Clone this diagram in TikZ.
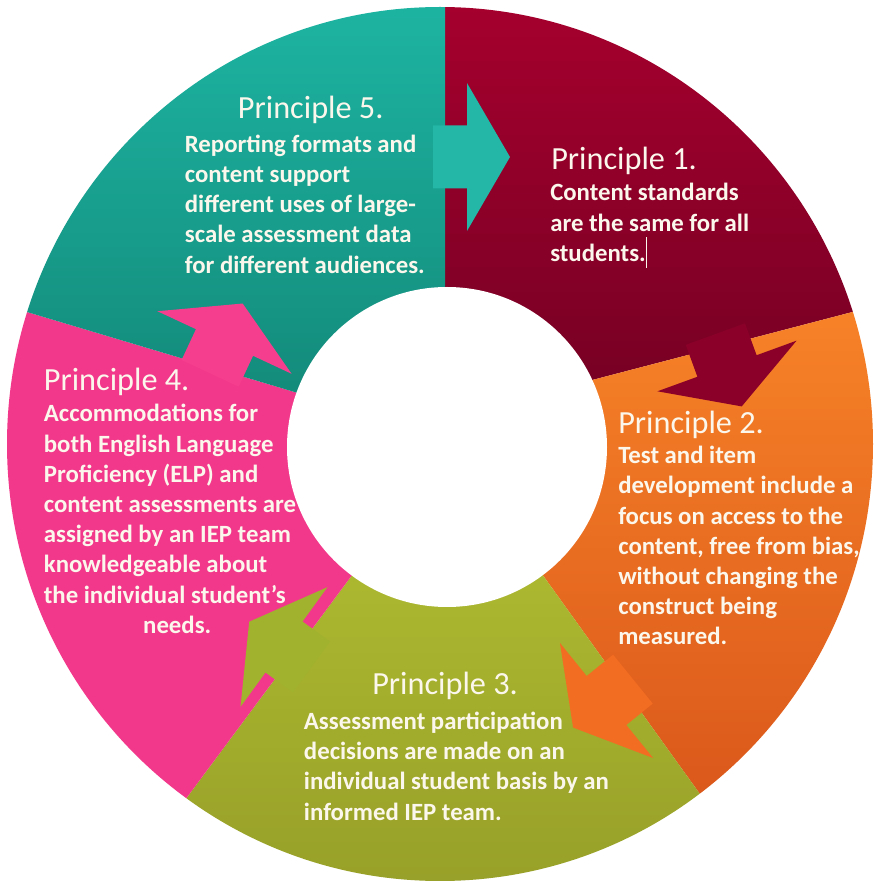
\documentclass[tikz,border=0pt]{standalone}
\usepackage{fontspec}
\setmainfont{Carlito}
\usetikzlibrary{positioning}
\definecolor{p1top}{RGB}{168,0,46}
\definecolor{p1bot}{RGB}{112,0,34}
\definecolor{p2top}{RGB}{248,132,40}
\definecolor{p2bot}{RGB}{212,78,24}
\definecolor{p3top}{RGB}{180,194,50}
\definecolor{p3bot}{RGB}{150,158,40}
\definecolor{p4col}{RGB}{242,56,138}
\definecolor{p5top}{RGB}{30,182,164}
\definecolor{p5bot}{RGB}{18,134,118}
\definecolor{a51col}{RGB}{36,182,166}
\definecolor{a12col}{RGB}{138,0,40}
\definecolor{a23col}{RGB}{242,108,34}
\definecolor{a34col}{RGB}{160,178,46}
\definecolor{a45col}{RGB}{246,62,142}
\definecolor{ptext}{RGB}{252,247,236}
\tikzset{
    ptitle/.style={anchor=base west, inner sep=0pt, text=ptext, font=\fontsize{24.2}{29}\selectfont},
    % base of a body node is the base of its last line
    pbody/.style={anchor=base west, inner sep=0pt, text=ptext, align=left, font=\fontsize{18.6}{22.65}\selectfont\bfseries},
    pics/flowarrow/.style={code={
        \fill[#1] (-34,-31.5) -- (0,-31.5) -- (0,-74) -- (43,0) -- (0,74) -- (0,31.5) -- (-34,31.5) -- cycle;
    }}
}

\begin{document}
\begin{tikzpicture}[x=0.75pt,y=0.75pt]
    \fill[white] (0,0) rectangle (877,883);
    \useasboundingbox (0,0) rectangle (877,883);
    % boundaries between the five parts
    \coordinate (i51) at (445,440);   \coordinate (o51) at (445,900);
    \coordinate (i12) at (445,464.5); \coordinate (o12) at (950,596.5);
    \coordinate (i23) at (445,444);   \coordinate (o23) at (766,-3);
    \coordinate (i34) at (445,433);   \coordinate (o34) at (135.5,16.4);
    \coordinate (i45) at (445,446);   \coordinate (o45) at (-40,591);
    \begin{scope}
        \clip (440,439) ellipse [x radius=433, y radius=437];
        \shade[top color=p1top, bottom color=p1bot] (i51) -- (o51) -- (950,900) -- (o12) -- (i12) -- cycle;
        \shade[top color=p2top, bottom color=p2bot] (i12) -- (o12) -- (950,-30) -- (766,-30) -- (o23) -- (i23) -- cycle;
        \shade[top color=p3top, bottom color=p3bot] (i23) -- (o23) -- (766,-30) -- (135.5,-30) -- (o34) -- (i34) -- cycle;
        \fill[p4col] (i34) -- (o34) -- (-40,16.4) -- (o45) -- (i45) -- cycle;
        \shade[top color=p5top, bottom color=p5bot] (i45) -- (o45) -- (-40,900) -- (o51) -- (i51) -- cycle;
    \end{scope}
    % arrows between the parts
    \pic[rotate=0]   at (467,726)     {flowarrow=a51col};
    \pic[rotate=-70] at (727,517)     {flowarrow=a12col};
    \pic[rotate=219] at (606.5,182.5) {flowarrow=a23col};
    \pic[rotate=144] at (284,236)     {flowarrow=a34col};
    \pic[rotate=65]  at (224.5,540.5) {flowarrow=a45col};
    \fill[white] (447,436) circle (160);
    % texts
    \node[ptitle] (t5) at (237.7,764) {Principle 5.};
    \node[pbody]  (b5) at (184.6,609.9) {Reporting formats and\\content support\\different uses of large-\\scale assessment data\\for different audiences.};
    \node[ptitle] (t1) at (551,713.6) {Principle 1.};
    \node[pbody]  (b1) at (550,621.6) {Content standards\\are the same for all\\students.\rule[-5pt]{0.8pt}{23pt}};
    \node[ptitle] (t2) at (618,449.6) {Principle 2.};
    \node[pbody]  (b2) at (618,238) {Test and item\\development include a\\focus on access to the\\content, free from bias,\\without changing the\\construct being\\measured.};
    \node[ptitle] (t3) at (372,188) {Principle 3.};
    \node[pbody]  (b3) at (303.7,62.9) {Assessment participation\\decisions are made on an\\individual student basis by an\\informed IEP team.};
    \node[ptitle] (t4) at (43.6,492.7) {Principle 4.};
    \node[pbody]  (b4) at (43.6,249.7) {Accommodations for\\both English Language\\Proficiency (ELP) and\\content assessments are\\assigned by an IEP team\\knowledgeable about\\the individual student’s\\\hspace*{74.5pt}needs.};
\end{tikzpicture}
\end{document}
